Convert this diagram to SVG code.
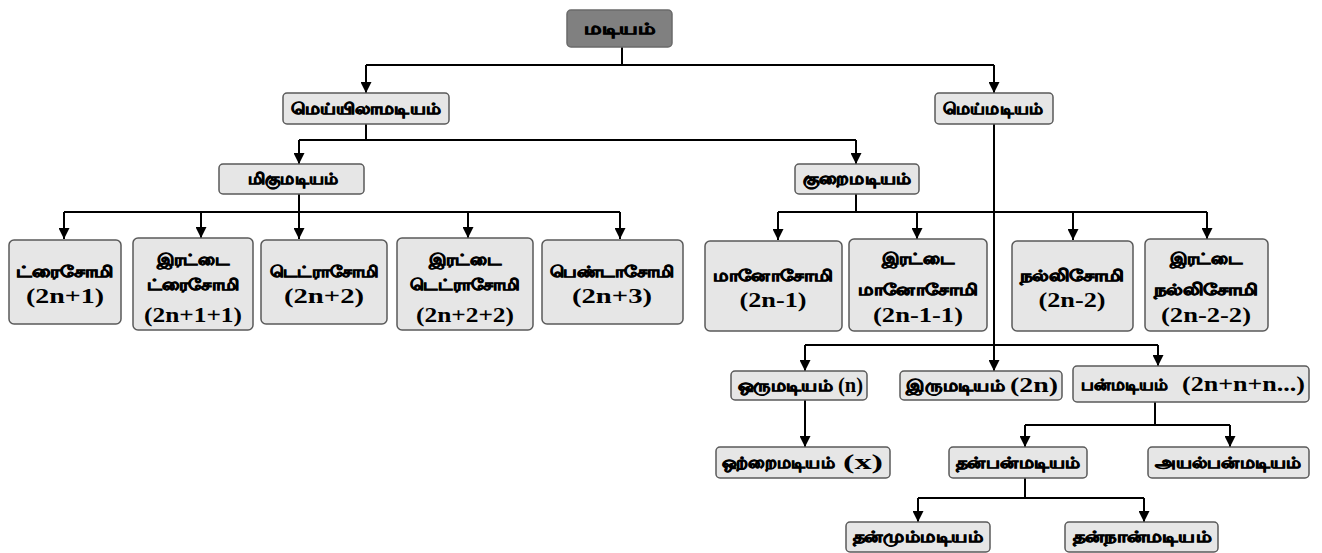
<svg xmlns="http://www.w3.org/2000/svg" width="1322" height="553" viewBox="0 0 1322 553">
<defs>
<marker id="ah" markerUnits="userSpaceOnUse" markerWidth="11" markerHeight="11" refX="11" refY="5.5" orient="auto" viewBox="0 0 11 11">
<path d="M0,0 L11,5.5 L0,11 Z" fill="#000"/>
</marker>
<style>
.box{fill:#e6e6e6;stroke:#5a5a5a;stroke-width:1.5}
.root{fill:#808080;stroke:#6a6a6a;stroke-width:1.5}
.ln{fill:none;stroke:#000;stroke-width:2}
.ar{fill:none;stroke:#000;stroke-width:2;marker-end:url(#ah)}
.ta{font-family:"Liberation Serif","Noto Sans",serif;font-weight:bold;font-size:16px;fill:#000;stroke:#000;stroke-width:0.8}
.la{font-family:"Liberation Serif",serif;font-weight:bold;font-size:20px;fill:#000}
.c{text-anchor:middle}
</style>
</defs>
<rect width="1322" height="553" fill="#fff"/>

<g id="connectors">
<path class="ln" d="M622,47 V65 M366,65 H994"/>
<path class="ar" d="M366,65 V93"/>
<path class="ar" d="M994,65 V93"/>
<path class="ln" d="M366,124 V140 M299,140 H856"/>
<path class="ar" d="M299,140 V164"/>
<path class="ar" d="M856,140 V164"/>
<path class="ln" d="M299,194 V212 M64,212 H620"/>
<path class="ar" d="M64,212 V239"/>
<path class="ar" d="M201,212 V238"/>
<path class="ar" d="M299,212 V239"/>
<path class="ar" d="M468,212 V238"/>
<path class="ar" d="M620,212 V239"/>
<path class="ln" d="M856,194 V212 M778,212 H1207"/>
<path class="ar" d="M778,212 V240"/>
<path class="ar" d="M917,212 V239"/>
<path class="ar" d="M1073,212 V240"/>
<path class="ar" d="M1207,212 V239"/>
<path class="ln" d="M994,124 V345 M805,345 H1158"/>
<path class="ar" d="M805,345 V371"/>
<path class="ar" d="M994,345 V371"/>
<path class="ar" d="M1158,345 V366"/>
<path class="ar" d="M805,400 V447"/>
<path class="ln" d="M1155,402 V425 M1025,425 H1230"/>
<path class="ar" d="M1025,425 V447"/>
<path class="ar" d="M1230,425 V447"/>
<path class="ln" d="M1025,478 V498 M918,498 H1144"/>
<path class="ar" d="M918,498 V522"/>
<path class="ar" d="M1144,498 V522"/>
</g>

<g id="n-root"><rect class="root" x="567" y="10" width="105" height="37" rx="4"/>
<text class="ta c" x="620" y="34" textLength="72" lengthAdjust="spacingAndGlyphs">மடியம்</text></g>

<g id="n-meyyila"><rect class="box" x="283" y="93" width="166" height="31" rx="4"/>
<text class="ta c" x="366" y="114" textLength="150" lengthAdjust="spacingAndGlyphs">மெய்யிலாமடியம்</text></g>

<g id="n-mey"><rect class="box" x="935" y="93" width="118" height="31" rx="4"/>
<text class="ta c" x="993" y="114" textLength="100" lengthAdjust="spacingAndGlyphs">மெய்மடியம்</text></g>

<g id="n-miku"><rect class="box" x="219" y="164" width="145" height="30" rx="4"/>
<text class="ta c" x="293" y="184" textLength="91" lengthAdjust="spacingAndGlyphs">மிகுமடியம்</text></g>

<g id="n-kurai"><rect class="box" x="795" y="164" width="124" height="30" rx="4"/>
<text class="ta c" x="857" y="184" textLength="109" lengthAdjust="spacingAndGlyphs">குறைமடியம்</text></g>

<g id="n-trisomy"><rect class="box" x="9" y="240" width="112" height="84" rx="5"/>
<text class="ta c" x="65" y="277" textLength="98" lengthAdjust="spacingAndGlyphs">ட்ரைசோமி</text>
<text class="la c" x="65" y="303" textLength="78" lengthAdjust="spacingAndGlyphs">(2n+1)</text></g>

<g id="n-dtrisomy"><rect class="box" x="133" y="238" width="120" height="92" rx="5"/>
<text class="ta c" x="193" y="265" textLength="73" lengthAdjust="spacingAndGlyphs">இரட்டை</text>
<text class="ta c" x="193" y="290" textLength="93" lengthAdjust="spacingAndGlyphs">ட்ரைசோமி</text>
<text class="la c" x="193" y="322" textLength="98" lengthAdjust="spacingAndGlyphs">(2n+1+1)</text></g>

<g id="n-tetrasomy"><rect class="box" x="261" y="240" width="126" height="84" rx="5"/>
<text class="ta c" x="324" y="277" textLength="109" lengthAdjust="spacingAndGlyphs">டெட்ராசோமி</text>
<text class="la c" x="324" y="303" textLength="80" lengthAdjust="spacingAndGlyphs">(2n+2)</text></g>

<g id="n-dtetrasomy"><rect class="box" x="397" y="238" width="136" height="92" rx="5"/>
<text class="ta c" x="465" y="265" textLength="73" lengthAdjust="spacingAndGlyphs">இரட்டை</text>
<text class="ta c" x="465" y="290" textLength="110" lengthAdjust="spacingAndGlyphs">டெட்ராசோமி</text>
<text class="la c" x="465" y="322" textLength="98" lengthAdjust="spacingAndGlyphs">(2n+2+2)</text></g>

<g id="n-pentasomy"><rect class="box" x="542" y="240" width="141" height="84" rx="5"/>
<text class="ta c" x="612" y="277" textLength="125" lengthAdjust="spacingAndGlyphs">பெண்டாசோமி</text>
<text class="la c" x="612" y="303" textLength="80" lengthAdjust="spacingAndGlyphs">(2n+3)</text></g>

<g id="n-monosomy"><rect class="box" x="705" y="241" width="137" height="90" rx="5"/>
<text class="ta c" x="773" y="281" textLength="120" lengthAdjust="spacingAndGlyphs">மானோசோமி</text>
<text class="la c" x="773" y="307" textLength="67" lengthAdjust="spacingAndGlyphs">(2n-1)</text></g>

<g id="n-dmonosomy"><rect class="box" x="849" y="239" width="138" height="92" rx="5"/>
<text class="ta c" x="918" y="264" textLength="73" lengthAdjust="spacingAndGlyphs">இரட்டை</text>
<text class="ta c" x="918" y="295" textLength="120" lengthAdjust="spacingAndGlyphs">மானோசோமி</text>
<text class="la c" x="918" y="322" textLength="90" lengthAdjust="spacingAndGlyphs">(2n-1-1)</text></g>

<g id="n-nullisomy"><rect class="box" x="1012" y="241" width="121" height="90" rx="5"/>
<text class="ta c" x="1072" y="281" textLength="105" lengthAdjust="spacingAndGlyphs">நல்லிசோமி</text>
<text class="la c" x="1072" y="307" textLength="67" lengthAdjust="spacingAndGlyphs">(2n-2)</text></g>

<g id="n-dnullisomy"><rect class="box" x="1145" y="239" width="123" height="92" rx="5"/>
<text class="ta c" x="1206" y="264" textLength="73" lengthAdjust="spacingAndGlyphs">இரட்டை</text>
<text class="ta c" x="1206" y="295" textLength="105" lengthAdjust="spacingAndGlyphs">நல்லிசோமி</text>
<text class="la c" x="1206" y="322" textLength="90" lengthAdjust="spacingAndGlyphs">(2n-2-2)</text></g>

<g id="n-oru"><rect class="box" x="731" y="371" width="136" height="29" rx="4"/>
<text class="ta" x="738" y="391" textLength="95" lengthAdjust="spacingAndGlyphs">ஒருமடியம்</text>
<text class="la" x="838" y="392" textLength="25" lengthAdjust="spacingAndGlyphs">(n)</text></g>

<g id="n-iru"><rect class="box" x="900" y="371" width="162" height="29" rx="4"/>
<text class="ta" x="906" y="391" textLength="99" lengthAdjust="spacingAndGlyphs">இருமடியம்</text>
<text class="la" x="1010" y="392" textLength="48" lengthAdjust="spacingAndGlyphs">(2n)</text></g>

<g id="n-pan"><rect class="box" x="1073" y="366" width="236" height="36" rx="4"/>
<text class="ta" x="1081" y="390" textLength="87" lengthAdjust="spacingAndGlyphs">பன்மடியம்</text>
<text class="la" x="1182" y="391" textLength="123" lengthAdjust="spacingAndGlyphs">(2n+n+n...)</text></g>

<g id="n-otrai"><rect class="box" x="716" y="447" width="174" height="31" rx="4"/>
<text class="ta" x="722" y="468" textLength="113" lengthAdjust="spacingAndGlyphs">ஒற்றைமடியம்</text>
<text class="la" x="843" y="469" textLength="40" lengthAdjust="spacingAndGlyphs">(x)</text></g>

<g id="n-thanpan"><rect class="box" x="949" y="447" width="138" height="31" rx="4"/>
<text class="ta c" x="1018" y="468" textLength="125" lengthAdjust="spacingAndGlyphs">தன்பன்மடியம்</text></g>

<g id="n-ayalpan"><rect class="box" x="1148" y="447" width="161" height="31" rx="4"/>
<text class="ta c" x="1228" y="468" textLength="147" lengthAdjust="spacingAndGlyphs">அயல்பன்மடியம்</text></g>

<g id="n-thanmum"><rect class="box" x="846" y="522" width="144" height="30" rx="4"/>
<text class="ta c" x="918" y="542" textLength="131" lengthAdjust="spacingAndGlyphs">தன்மும்மடியம்</text></g>

<g id="n-thannan"><rect class="box" x="1065" y="522" width="153" height="30" rx="4"/>
<text class="ta c" x="1142" y="542" textLength="139" lengthAdjust="spacingAndGlyphs">தன்நான்மடியம்</text></g>
</svg>
